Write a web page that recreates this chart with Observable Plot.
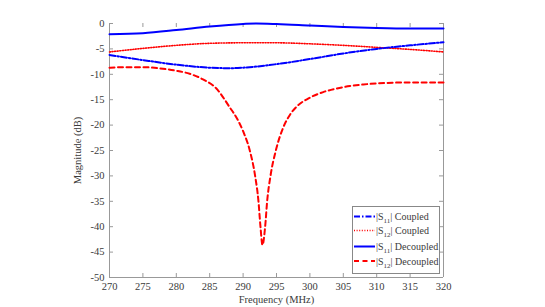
<!DOCTYPE html>
<html><head><meta charset="utf-8">
<script src="https://cdn.jsdelivr.net/npm/d3@7"></script>
<script src="https://cdn.jsdelivr.net/npm/@observablehq/plot@0.6"></script>
<style>
body{margin:0;background:#fff;}
#wrap{position:relative;width:545px;height:307px;}
</style></head>
<body><div id="wrap"></div>
<script>
const xTicks = [270,275,280,285,290,295,300,305,310,315,320];
const yTicks = [0,-5,-10,-15,-20,-25,-30,-35,-40,-45,-50];

const s11CoupledF = [270,275,280,285,288,290,295,300,305,310,315,320];
const s11CoupledV = [-6.2,-7.2,-8.1,-8.7,-8.8,-8.7,-8.0,-7.0,-5.9,-5.0,-4.3,-3.7];

const s12CoupledF = [270,275,280,285,290,295,300,305,310,315,320];
const s12CoupledV = [-5.6,-4.9,-4.3,-3.9,-3.8,-3.8,-4.0,-4.3,-4.7,-5.1,-5.6];

const s11DecoupledF = [270,275,280,285,290,292,295,300,305,310,315,320];
const s11DecoupledV = [-2.1,-1.9,-1.3,-0.6,-0.1,0,-0.1,-0.4,-0.7,-0.9,-1.0,-1.0];

const s12DecoupledF = [270,272,275,278,280,282,284,286,288,289,290,291,291.8,292.3,292.6,292.9,293.3,293.6,294.1,294.9,296,297,298,300,302,304,306,308,310,315,320];
const s12DecoupledV = [-8.7,-8.6,-8.6,-8.9,-9.3,-9.9,-11.0,-12.8,-16.5,-18.5,-21.2,-25.0,-30,-35,-40,-43.6,-40,-35,-30,-25,-20.5,-18.0,-16.4,-14.6,-13.5,-12.8,-12.3,-12.0,-11.8,-11.6,-11.6];

function rows(F,V){return F.map((f,i)=>({f, v:V[i]}));}

const FONT = "'Liberation Serif', 'Times New Roman', serif";
const axisColor = "#999";
const textColor = "#3a3a3a";

const plot = Plot.plot({
  width:545, height:307,
  marginLeft:109, marginRight:102, marginTop:23, marginBottom:30,
  style:{fontFamily:FONT, fontSize:"10px", color:textColor, background:"#fff"},
  x:{domain:[270,320]},
  y:{domain:[-50,0]},
  marks:[
    Plot.ruleX([270,320],{stroke:axisColor}),
    Plot.ruleY([-50],{stroke:axisColor}),
    Plot.tickX(xTicks,{x:d=>d, stroke:axisColor, insetTop:250}),
    Plot.tickX(xTicks,{x:d=>d, stroke:axisColor, insetBottom:250}),
    Plot.tickY(yTicks,{y:d=>d, stroke:axisColor, insetRight:330}),
    Plot.tickY(yTicks,{y:d=>d, stroke:axisColor, insetLeft:330}),
    Plot.axisX({ticks:xTicks, tickSize:0, tickPadding:5, tickFormat:d=>String(d), label:"Frequency (MHz)", labelAnchor:"center", labelArrow:"none", labelOffset:25, fontSize:10.5}),
    Plot.axisY({ticks:yTicks, tickSize:0, tickPadding:5, tickFormat:d=>String(d), label:"Magnitude (dB)", labelAnchor:"center", labelArrow:"none", labelOffset:36, fontSize:10.5}),
    Plot.line(rows(s11DecoupledF,s11DecoupledV),{x:"f",y:"v",stroke:"#0000ff",strokeWidth:2,curve:"monotone-x"}),
    Plot.line(rows(s12CoupledF,s12CoupledV),{x:"f",y:"v",stroke:"#ff0000",strokeWidth:1.6,strokeDasharray:"1,1.6",curve:"monotone-x"}),
    Plot.line(rows(s11CoupledF,s11CoupledV),{x:"f",y:"v",stroke:"#0000ff",strokeWidth:2,strokeDasharray:"6,2,1.5,2",curve:"monotone-x"}),
    Plot.line(rows(s12DecoupledF,s12DecoupledV),{x:"f",y:"v",stroke:"#ff0000",strokeWidth:2,strokeDasharray:"5,3.5",curve:"monotone-x"})
  ]
});
document.getElementById("wrap").appendChild(plot);

// legend
const legendItems = [
  {sub:"11", txt:"Coupled", color:"#0000ff", dash:"6,2,1.5,2", w:2},
  {sub:"12", txt:"Coupled", color:"#ff0000", dash:"1,1.6", w:1.6},
  {sub:"11", txt:"Decoupled", color:"#0000ff", dash:null, w:2},
  {sub:"12", txt:"Decoupled", color:"#ff0000", dash:"5,3.5", w:2}
];
const svg = d3.select(plot);
const lg = svg.append("g").attr("transform","translate(352,206)").attr("text-anchor","start");
lg.append("rect").attr("x",0.5).attr("y",0.5).attr("width",87).attr("height",67).attr("fill","#fff").attr("stroke","#888").attr("stroke-width",1);
const ys=[10.5,24.5,40.5,55];
legendItems.forEach((it,i)=>{
  const g = lg.append("g").attr("transform",`translate(0,${ys[i]})`);
  g.append("line").attr("x1",2).attr("x2",23).attr("stroke",it.color).attr("stroke-width",it.w).attr("stroke-dasharray",it.dash);
  const t = g.append("text").attr("x",24).attr("y",3.5).attr("font-size",10).attr("fill",textColor).attr("text-anchor","start");
  t.append("tspan").text("|S");
  t.append("tspan").attr("font-size",7).attr("dy",3).text(it.sub);
  t.append("tspan").attr("dy",-3).text("| "+it.txt);
});
svg.selectAll("text").attr("font-family", FONT).style("font-family", FONT);
</script></body></html>
